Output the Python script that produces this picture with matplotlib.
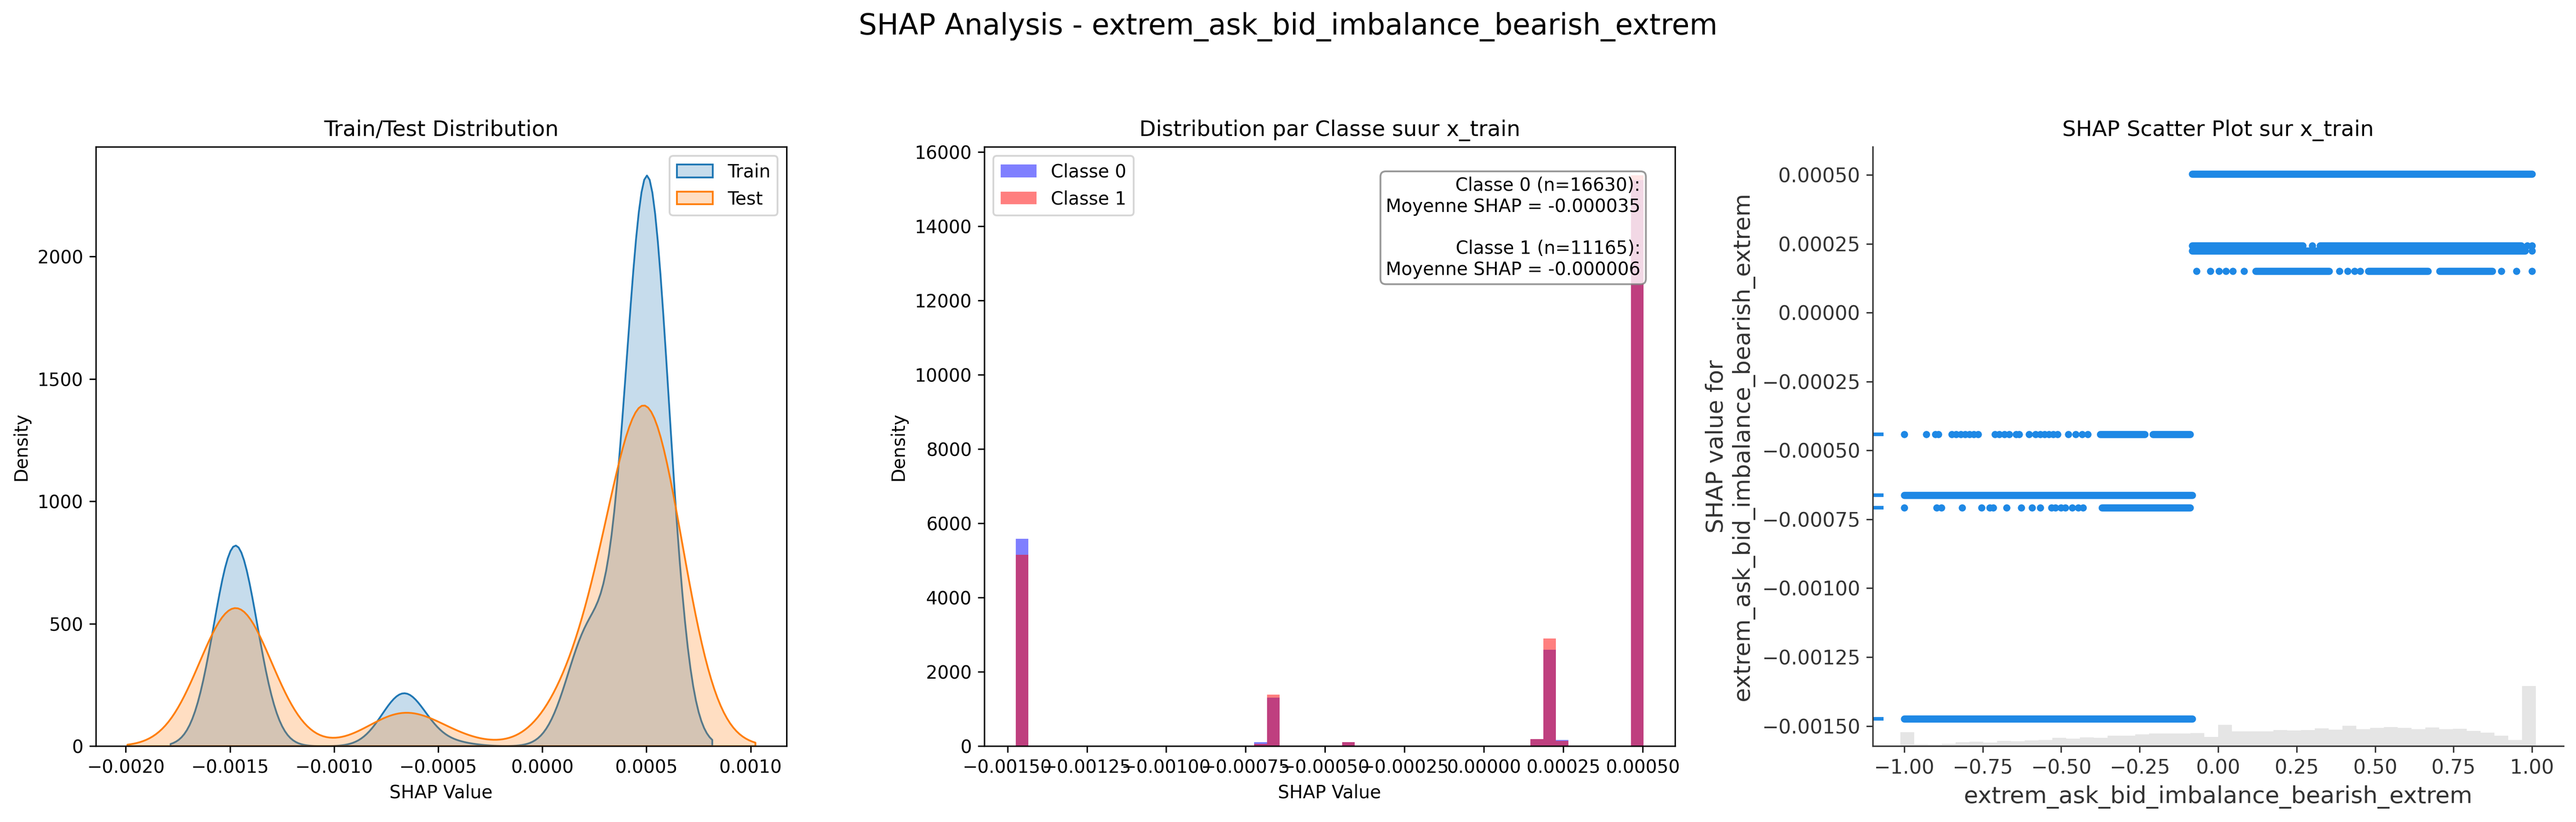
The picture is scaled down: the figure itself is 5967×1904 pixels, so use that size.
import numpy as np
import matplotlib
matplotlib.use('Agg')
import matplotlib.pyplot as plt
import seaborn as sns

feature = 'extrem_ask_bid_imbalance_bearish_extrem'

# discrete shap levels (same levels show up in the scatter rows)
shap_levels = [-0.001474, -0.000708, -0.000663, -0.000441, 0.000151, 0.000225, 0.000243, 0.000503]
# how many train rows of each class sit on each level
class0_counts = [3672, 67, 860, 67, 125, 1705, 108, 10026]
class1_counts = [2273, 28, 611, 45, 84, 1277, 61, 6786]
# test set, read from the orange kde
test_counts = [649, 27, 119, 27, 27, 265, 27, 1509]

# scatter plot: continuous runs of points (level, x start, x end)
run_y = [0.000503, 0.000243, 0.000243, 0.000225, 0.000151, 0.000151, 0.000151,
         -0.000441, -0.000441, -0.000663, -0.000708, -0.001474]
run_x0 = [-0.082, -0.082, 0.325, -0.082, 0.120, 0.478, 0.705, -0.375, -0.208, -1.0, -0.370, -1.0]
run_x1 = [1.0, 0.27, 0.965, 0.978, 0.354, 0.668, 0.873, -0.234, -0.090, -0.083, -0.089, -0.083]

# isolated points
dots_0243 = [0.30, 0.985, 1.0]
dots_0225 = [1.0]
dots_0151 = [-0.069, -0.025, 0.003, 0.025, 0.047, 0.083, 0.386, 0.412, 0.434, 0.453, 0.902, 0.950, 1.0]
dots_m0441 = [-1.0, -0.930, -0.901, -0.891, -0.849, -0.835, -0.820, -0.806, -0.792, -0.778, -0.764,
              -0.711, -0.697, -0.680, -0.665, -0.644, -0.634, -0.602, -0.581, -0.567, -0.553,
              -0.539, -0.525, -0.511, -0.477, -0.454, -0.433, -0.415]
dots_m0708 = [-0.999, -0.896, -0.882, -0.816, -0.753, -0.728, -0.716, -0.674, -0.627, -0.592,
              -0.567, -0.531, -0.519, -0.501, -0.487, -0.465, -0.446, -0.431]

# levels of rows where the feature is NaN
nan_levels = [-0.000441, -0.000663, -0.000708, -0.001474]

# feature histogram (50 bins over the x range of the scatter)
feat_range = [-1.0, 1.0]
feat_hist = [0, 0, 634, 73, 53, 93, 173, 193, 153, 233, 213, 253,
             273, 374, 334, 394, 374, 474, 474, 534, 574, 574,
             574, 594, 414, 974, 674, 674, 674, 734, 714, 734,
             814, 754, 934, 774, 834, 874, 834, 774, 854, 774,
             794, 694, 614, 474, 273, 2775, 0, 0]

levels = np.array(shap_levels)
class0 = np.repeat(levels, class0_counts)
class1 = np.repeat(levels, class1_counts)
train = np.concatenate([class0, class1])
test = np.repeat(levels, test_counts)
n_total = len(train)

W, H = 5967, 1904
fig = plt.figure(figsize=(W/300, H/300), dpi=300)
aw = 1600/W
ah = 1388/H
ab = 1 - 1728/H
ax1 = fig.add_axes([222/W, ab, aw, ah])
ax2 = fig.add_axes([2280/W, ab, aw, ah])
ax3 = fig.add_axes([4338/W, ab, aw, ah])

fig.text(0.5, 1 - 80/H, 'SHAP Analysis - ' + feature, fontsize=16, ha='center', va='baseline')

# --- train / test kde
sns.kdeplot(train, ax=ax1, fill=True, label='Train')
sns.kdeplot(test, ax=ax1, fill=True, label='Test')
ax1.set_title('Train/Test Distribution')
ax1.set_xlabel('SHAP Value')
ax1.set_ylabel('Density')
ax1.legend(loc='upper right')

# --- per class histogram
ax2.hist(class0, bins=50, alpha=0.5, color='blue', label='Classe 0', density=True)
ax2.hist(class1, bins=50, alpha=0.5, color='red', label='Classe 1', density=True)
ax2.set_title('Distribution par Classe suur x_train')
ax2.set_xlabel('SHAP Value')
ax2.set_ylabel('Density')
ax2.legend(loc='upper left')
txt = (f'Classe 0 (n={len(class0)}):\nMoyenne SHAP = {class0.mean():.6f}\n\n'
       f'Classe 1 (n={len(class1)}):\nMoyenne SHAP = {class1.mean():.6f}')
ax2.text(0.95, 0.95, txt, transform=ax2.transAxes, ha='right', va='top',
         bbox=dict(boxstyle='round', facecolor='white', edgecolor='gray', alpha=0.8))

# --- shap scatter
blue = '#1E88E5'
axis_color = '#333333'
pad = 0.05*(feat_range[1] - feat_range[0])
xlim = (feat_range[0] - pad, feat_range[1] + pad)

axh = ax3.twinx()
edges = np.linspace(xlim[0], xlim[1], len(feat_hist) + 1)
axh.bar(edges[:-1], feat_hist, width=np.diff(edges), align='edge', color='#000000', alpha=0.1, linewidth=0)
axh.set_ylim(0, n_total)
axh.set_yticks([])
for s in axh.spines.values():
    s.set_visible(False)
ax3.set_zorder(axh.get_zorder() + 1)
ax3.patch.set_visible(False)

ax3.hlines(run_y, run_x0, run_x1, colors=blue, linewidth=4, capstyle='round')
dot_sets = [(0.000243, dots_0243), (0.000225, dots_0225), (0.000151, dots_0151),
            (-0.000441, dots_m0441), (-0.000708, dots_m0708)]
for lvl, xs in dot_sets:
    ax3.scatter(xs, [lvl]*len(xs), s=16, color=blue, linewidth=0)
ax3.scatter([xlim[0]]*len(nan_levels), nan_levels, marker=1, s=36, linewidths=2, color=blue)
ax3.set_xlim(xlim)

ax3.set_title('SHAP Scatter Plot sur x_train')
ax3.set_xlabel(feature, fontsize=13, color=axis_color)
ax3.set_ylabel('SHAP value for\n' + feature, fontsize=13, color=axis_color)
ax3.spines['top'].set_visible(False)
ax3.spines['right'].set_visible(False)
ax3.spines['left'].set_color(axis_color)
ax3.spines['bottom'].set_color(axis_color)
ax3.tick_params(color=axis_color, labelcolor=axis_color, labelsize=11)

fig.savefig('out.png', dpi=300)
